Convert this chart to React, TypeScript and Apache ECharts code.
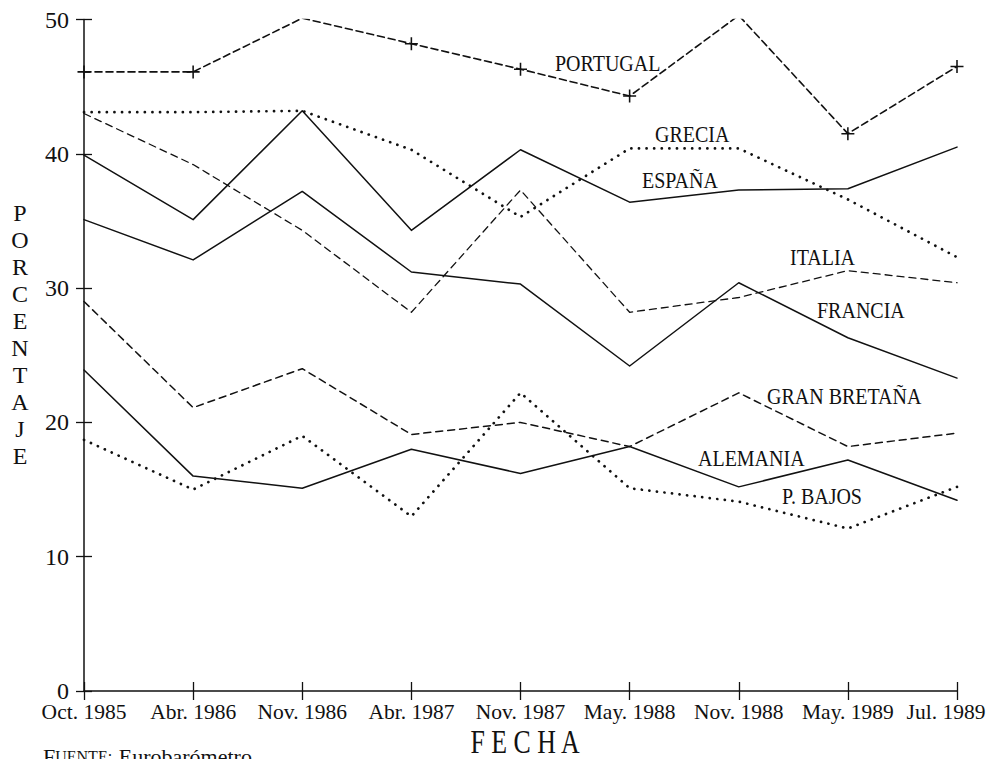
import React, { useEffect, useRef } from "react";
import * as echarts from "echarts";

const categories = [
  "Oct. 1985", "Abr. 1986", "Nov. 1986", "Abr. 1987", "Nov. 1987",
  "May. 1988", "Nov. 1988", "May. 1989", "Jul. 1989",
];
const yTicks = [0, 10, 20, 30, 40, 50];

const portugal = [46.1, 46.1, 50.1, 48.2, 46.3, 44.3, 50.3, 41.5, 46.5];
const grecia = [43.1, 43.1, 43.2, 40.3, 35.3, 40.4, 40.4, 36.6, 32.3];
const espana = [39.9, 35.1, 43.2, 34.3, 40.3, 36.4, 37.3, 37.4, 40.5];
const italia = [43.0, 39.2, 34.3, 28.2, 37.3, 28.2, 29.3, 31.3, 30.4];
const francia = [35.1, 32.1, 37.2, 31.2, 30.3, 24.2, 30.4, 26.3, 23.3];
const granBretana = [29.0, 21.1, 24.0, 19.1, 20.0, 18.2, 22.2, 18.2, 19.2];
const alemania = [23.9, 16.0, 15.1, 18.0, 16.2, 18.2, 15.2, 17.2, 14.2];
const paisesBajos = [18.7, 15.0, 19.0, 13.0, 22.2, 15.1, 14.1, 12.1, 15.2];

const FONT = "'Liberation Serif', 'Times New Roman', serif";
const INK = "#111";

const PLUS = "path://M4.4,0h1.2v4.4h4.4v1.2h-4.4v4.4h-1.2v-4.4h-4.4v-1.2h4.4z";

function line(name: string, data: number[], type: any, width: number, extra: any = {}) {
  return {
    name,
    type: "line",
    data,
    xAxisIndex: 0,
    yAxisIndex: 0,
    symbol: "none",
    silent: true,
    lineStyle: { color: INK, width, type, cap: "round", join: "round" },
    z: 3,
    ...extra,
  };
}

function label(text: string, x: number, y: number) {
  return {
    type: "text",
    x,
    y,
    scaleY: 1.12,
    style: {
      text,
      fill: INK,
      font: `normal 20px ${FONT}`,
      textAlign: "left",
      textVerticalAlign: "middle",
    },
    z: 10,
  };
}

export default function App() {
  const ref = useRef<HTMLDivElement>(null);

  useEffect(() => {
    if (!ref.current) return;
    const chart = echarts.init(ref.current, undefined, { renderer: "svg" });
    const axisLineStyle = { color: INK, width: 1.5 };
    const option: any = {
      animation: false,
      backgroundColor: "#fff",
      grid: {
        left: 84,
        right: 37,
        top: 19.5,
        bottom: 68,
        containLabel: false,
        outerBoundsMode: "none",
      },
      xAxis: [
        {
          type: "category",
          data: categories,
          boundaryGap: false,
          position: "bottom",
          axisLine: { show: true, lineStyle: axisLineStyle },
          axisTick: { show: true, inside: false, length: 9, lineStyle: { color: INK, width: 1.3 } },
          axisLabel: {
            color: INK,
            fontFamily: FONT,
            fontSize: 21.5,
            fontWeight: "normal",
            margin: 10,
            interval: 0,
            formatter: (v: string, i: number) =>
              i === categories.length - 1 ? `{last|${v}}` : v,
            rich: {
              last: {
                fontFamily: FONT,
                fontSize: 21.5,
                fontWeight: "normal",
                color: INK,
                padding: [0, 22, 0, 0],
              },
            },
          },
          splitLine: { show: false },
        },
        {
          type: "category",
          data: categories,
          boundaryGap: false,
          position: "bottom",
          axisLine: { show: false },
          axisTick: { show: true, inside: true, length: 9, lineStyle: { color: INK, width: 1.3 } },
          axisLabel: { show: false },
          splitLine: { show: false },
        },
      ],
      yAxis: [
        {
          type: "value",
          min: yTicks[0],
          max: yTicks[yTicks.length - 1],
          interval: 10,
          position: "left",
          axisLine: { show: true, lineStyle: axisLineStyle },
          axisTick: { show: true, inside: false, length: 8, lineStyle: { color: INK, width: 1.3 } },
          axisLabel: { color: INK, fontFamily: FONT, fontSize: 24, fontWeight: "normal", margin: 15 },
          splitLine: { show: false },
        },
        {
          type: "value",
          min: yTicks[0],
          max: yTicks[yTicks.length - 1],
          interval: 10,
          position: "left",
          axisLine: { show: false },
          axisTick: { show: true, inside: true, length: 8, lineStyle: { color: INK, width: 1.3 } },
          axisLabel: { show: false },
          splitLine: { show: false },
        },
      ],
      series: [
        line("PORTUGAL", portugal, [7, 4], 1.6, {
          symbol: PLUS,
          symbolSize: 13,
          showSymbol: true,
          itemStyle: { color: INK },
        }),
        line("GRECIA", grecia, [0.1, 7.5], 2.7),
        line("ESPAÑA", espana, "solid", 1.5),
        line("ITALIA", italia, [7, 5], 1.3),
        line("FRANCIA", francia, "solid", 1.5),
        line("GRAN BRETAÑA", granBretana, [7, 5], 1.5),
        line("ALEMANIA", alemania, "solid", 1.5),
        line("P. BAJOS", paisesBajos, [0.1, 7.5], 2.7),
      ],
      graphic: [
        label("PORTUGAL", 555, 64),
        label("GRECIA", 655, 135),
        label("ESPAÑA", 642, 181),
        label("ITALIA", 790, 258),
        label("FRANCIA", 817, 311),
        label("GRAN BRETAÑA", 767, 397),
        label("ALEMANIA", 698, 459),
        label("P. BAJOS", 782, 497),
        {
          type: "text",
          x: 20,
          y: 199,
          style: {
            text: "P\nO\nR\nC\nE\nN\nT\nA\nJ\nE",
            fill: INK,
            font: `normal 24px ${FONT}`,
            lineHeight: 27,
            textAlign: "center",
            textVerticalAlign: "top",
          },
        },
        {
          type: "text",
          x: 525,
          y: 742,
          scaleX: 0.76,
          style: {
            text: "F E C H A",
            fill: INK,
            font: `normal 34px ${FONT}`,
            textAlign: "center",
            textVerticalAlign: "middle",
          },
        },
        {
          type: "text",
          x: 43,
          y: 745,
          style: {
            text: "{a|F}{b|UENTE:}  {a|Eurobarómetro}",
            fill: INK,
            textAlign: "left",
            textVerticalAlign: "top",
            rich: {
              a: { fontFamily: FONT, fontSize: 22, fill: INK },
              b: { fontFamily: FONT, fontSize: 16, fill: INK },
            },
          },
        },
      ],
    };
    chart.setOption(option);
    return () => chart.dispose();
  }, []);

  return (
    <div
      ref={ref}
      style={{ position: "absolute", left: 0, top: 0, width: 994, height: 759, background: "#fff" }}
    />
  );
}
